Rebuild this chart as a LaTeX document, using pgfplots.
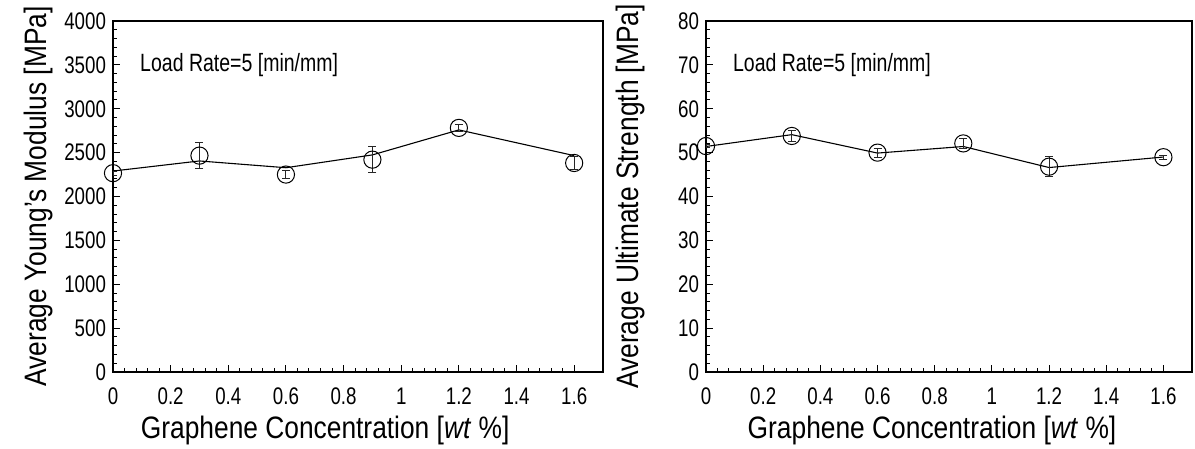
\documentclass[border=0pt]{standalone}
\usepackage{fontspec}
\setmainfont{Liberation Sans}[FakeStretch=0.85]
\newfontfamily\narrowfont{Liberation Sans}[FakeStretch=0.78]
\usepackage{pgfplots}
\pgfplotsset{compat=1.18}

\pgfplotstableread{
x    y     e
0    2266  25
0.3  2466  150
0.6  2250  46
0.9  2420  145
1.2  2782  35
1.6  2382  72
}\modulusmarks
\pgfplotstableread{
x    y
0    2290
0.3  2405
0.6  2328
0.9  2474
1.2  2759
1.6  2466
}\modulusline
\pgfplotstableread{
x    y     e
0    51.5  0.3
0.3  53.8  1.2
0.6  50.0  1.0
0.9  52.1  1.2
1.2  46.8  2.3
1.6  48.96 0.5
}\strengthmarks
\pgfplotstableread{
x    y
0    51.4
0.3  54.1
0.6  49.9
0.9  51.4
1.2  46.6
1.6  49.0
}\strengthline

\begin{document}
\begin{tikzpicture}
\useasboundingbox (0,0) rectangle (597.5pt,224.5pt);
\tikzset{gcnote/.style={anchor=west, font=\narrowfont\fontsize{12.5}{14}\selectfont}}
\pgfplotsset{
  gcpanel/.style={
    anchor=south west,
    scale only axis,
    height=175.5pt,
    xmin=0, xmax=1.7,
    xtick={0,0.2,0.4,0.6,0.8,1,1.2,1.4,1.6},
    minor x tick num=4,
    minor y tick num=4,
    tick pos=left,
    tick align=inside,
    major tick length=3.5pt,
    minor tick length=2pt,
    every tick/.style={black, line width=0.5pt},
    axis line style={black, line width=0.6pt},
    /pgf/number format/assume math mode=true,
    /pgf/number format/1000 sep={},
    scaled ticks=false,
    tick label style={font=\narrowfont\fontsize{12}{14}\selectfont},
    xticklabel style={yshift=-4.5pt},
    label style={font=\fontsize{15.5}{18}\selectfont},
    xlabel={Graphene Concentration [\textit{wt} \%]},
  },
  gcline/.style={black, line width=0.55pt, no marks},
  gcmarks/.style={only marks, mark=o, mark size=4.3pt,
    mark options={black, line width=0.5pt},
    error bars/.cd, y dir=both, y explicit,
    error bar style={black!85, line width=0.45pt},
    error mark options={rotate=90, mark size=2pt, black!85, line width=0.45pt}},
}

\begin{axis}[gcpanel,
  at={(56.5pt,38.5pt)}, width=245pt,
  ymin=0, ymax=4000, ytick={0,500,...,4000},
  ylabel={Average Young's Modulus [MPa]},
  xlabel style={at={(axis description cs:0.433,0)}, anchor=center, yshift=-29pt},
  ylabel style={at={(axis description cs:-0.153,0.5)}, anchor=center},
]
\addplot[gcline] table[x=x,y=y] {\modulusline};
\addplot[gcmarks] table[x=x,y=y,y error=e] {\modulusmarks};
\node[gcnote] at (axis cs:0.07,3500) {Load Rate=5 [min/mm]};
\end{axis}

\begin{axis}[gcpanel,
  at={(353pt,38.5pt)}, width=243pt,
  ymin=0, ymax=80, ytick={0,10,...,80},
  ylabel={Average Ultimate Strength [MPa]},
  xlabel style={at={(axis description cs:0.465,0)}, anchor=center, yshift=-29pt},
  ylabel style={at={(axis description cs:-0.156,0.5)}, anchor=center},
]
\addplot[gcline] table[x=x,y=y] {\strengthline};
\addplot[gcmarks] table[x=x,y=y,y error=e] {\strengthmarks};
\node[gcnote] at (axis cs:0.07,70) {Load Rate=5 [min/mm]};
\end{axis}
\end{tikzpicture}
\end{document}
